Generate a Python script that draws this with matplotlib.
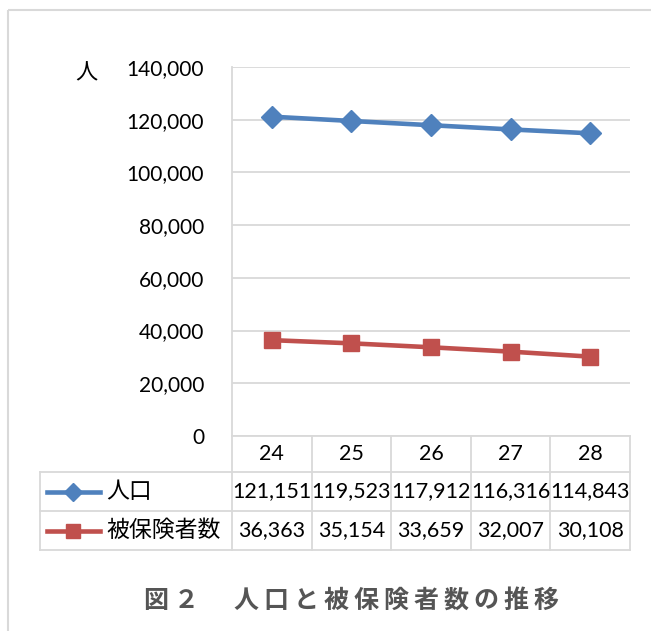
"""Population and insured-person trend with an Excel-style data table."""

import matplotlib

matplotlib.use("Agg")
import matplotlib.pyplot as plt
from matplotlib.lines import Line2D
from matplotlib.patches import Rectangle

plt.rcParams["font.family"] = ["Lato", "Noto Sans CJK JP", "DejaVu Sans"]

years = ["24", "25", "26", "27", "28"]
population = [121151, 119523, 117912, 116316, 114843]
insured = [36363, 35154, 33659, 32007, 30108]
series_names = ["人口", "被保険者数"]
y_ticks = [0, 20000, 40000, 60000, 80000, 100000, 120000, 140000]

BLUE = "#4F81BD"
RED = "#C0504D"
GRID = "#D9D9D9"
W, H = 651, 631

fig = plt.figure(figsize=(W / 100, H / 100), dpi=100)

# pixel-space overlay for the frame, table and caption
over = fig.add_axes([0, 0, 1, 1])
over.set_xlim(0, W)
over.set_ylim(H, 0)
over.axis("off")

left, right, top, bottom = 232, 630, 67, 436
ax = fig.add_axes([left / W, 1 - bottom / H, (right - left) / W, (bottom - top) / H])
x = list(range(len(years)))
ax.set_xlim(-0.5, len(years) - 0.5)
ax.set_ylim(0, 140000)
ax.set_yticks(y_ticks)
ax.set_yticklabels([f"{v:,}" for v in y_ticks], fontsize=15)
ax.set_xticks([])
ax.tick_params(axis="y", length=0, pad=20)
ax.grid(axis="y", color=GRID, linewidth=1.3)
ax.set_axisbelow(True)
for side in ("top", "right", "bottom"):
    ax.spines[side].set_visible(False)
ax.spines["left"].set_color(GRID)
ax.spines["left"].set_linewidth(1.3)
ax.patch.set_alpha(0)

ax.plot(x, population, color=BLUE, lw=3.3, marker="D", ms=11, mec=BLUE, zorder=3)
ax.plot(x, insured, color=RED, lw=3.3, marker="s", ms=11.5, mec=RED, zorder=3)

ax.text(-0.365, 0.985, "人", transform=ax.transAxes, fontsize=16,
        ha="center", va="center", family=["Noto Sans CJK JP"])

# outer chart frame
over.add_patch(Rectangle((8, 10), W, H, fill=False, ec=GRID, lw=1.5))

# data table
tbl_left = 40
row_edges = [bottom, 472, 511, 550]
col_w = (right - left) / len(years)
col_edges = [left + i * col_w for i in range(len(years) + 1)]
tkw = dict(color=GRID, lw=1.3, zorder=1)
over.plot([left, left], [row_edges[0], row_edges[-1]], **tkw)
for cx in col_edges[1:]:
    over.plot([cx, cx], [row_edges[0], row_edges[-1]], **tkw)
over.plot([tbl_left, tbl_left], [row_edges[1], row_edges[-1]], **tkw)
over.plot([left, right], [row_edges[0], row_edges[0]], **tkw)
for ry in row_edges[1:]:
    over.plot([tbl_left, right], [ry, ry], **tkw)

centers = [left + (i + 0.5) * col_w for i in range(len(years))]
head_y = (row_edges[0] + row_edges[1]) / 2
for cx, yr in zip(centers, years):
    over.text(cx, head_y, yr, ha="center", va="center", fontsize=15.5)

rows = [(population, BLUE, "D", 9), (insured, RED, "s", 10)]
for r, ((vals, color, marker, ms), name) in enumerate(zip(rows, series_names)):
    ry = (row_edges[r + 1] + row_edges[r + 2]) / 2
    over.add_line(Line2D([47, 100], [ry, ry], color=color, lw=3.3))
    over.add_line(Line2D([73], [ry], color=color, marker=marker, ms=ms, mec=color))
    over.text(106, ry, name, ha="left", va="center", fontsize=16.5,
              family=["Noto Sans CJK JP"])
    for cx, v in zip(centers, vals):
        over.text(cx, ry, f"{v:,}", ha="center", va="center", fontsize=15.5)

title = "\u2009".join("図２\u3000人口と被保険者数の推移")
over.text(351, 601, title, ha="center", va="center", fontsize=18,
          fontweight="bold", color="#555555",
          family=["Noto Sans CJK JP", "DejaVu Sans"])

fig.savefig("out.png", dpi=100)
